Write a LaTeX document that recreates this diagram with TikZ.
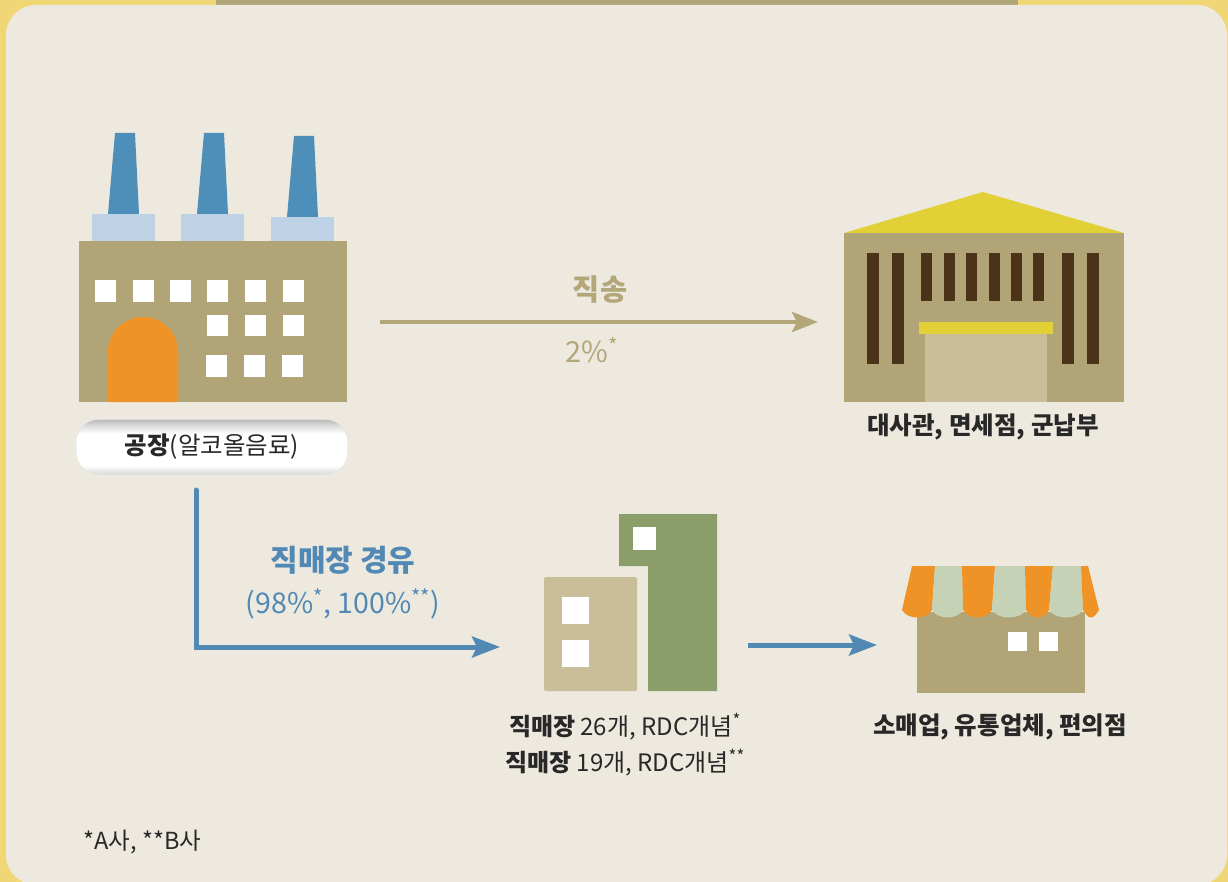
\documentclass[tikz,border=0pt]{standalone}
\usepackage{fontspec}
\setmainfont{Noto Sans CJK KR}
\usetikzlibrary{arrows.meta,positioning}

\definecolor{frameyellow}{HTML}{F0D675}
\definecolor{topbar}{HTML}{B0A577}
\definecolor{panel}{HTML}{EDE9DF}
\definecolor{khaki}{HTML}{B1A578}
\definecolor{stackblue}{HTML}{4E8FBA}
\definecolor{stackbase}{HTML}{BDD2E5}
\definecolor{doororange}{HTML}{EF9326}
\definecolor{roofyellow}{HTML}{E2D136}
\definecolor{column}{HTML}{4A3318}
\definecolor{lightsand}{HTML}{CABE9A}
\definecolor{olivegreen}{HTML}{8B9E6A}
\definecolor{awngreen}{HTML}{C5D2B5}
\definecolor{flowblue}{HTML}{5189B4}
\definecolor{flowtan}{HTML}{B3A77A}
\definecolor{ink}{HTML}{282828}

\pgfdeclareverticalshading{pillshade}{100bp}{color(0bp)=(gray!30); color(25bp)=(gray!30);
  color(33bp)=(white); color(62bp)=(white); color(70bp)=(gray!30); color(75bp)=(gray!55);
  color(100bp)=(gray!55)}

\tikzset{
  bodybox/.style={fill=khaki, draw=none, inner sep=0pt},
  window/.style={fill=white},
  pill/.style={shading=pillshade, draw=gray!20, rounded corners=22pt,
    minimum width=271pt, minimum height=55pt, text=ink,
    font=\fontsize{24.5pt}{28pt}\selectfont},
  caption/.style={text=ink, font=\fontsize{24.5pt}{28pt}\selectfont\bfseries},
  tanarrow/.style={draw=flowtan, line width=4.5pt,
    -{Stealth[length=26pt, width=20pt, inset=5pt]}},
  bluearrow/.style={draw=flowblue, line width=5pt,
    -{Stealth[length=28pt, width=21pt, inset=5pt]}},
}

\begin{document}
\begin{tikzpicture}[x=1pt, y=-1pt]
\useasboundingbox (0,0) rectangle (1228,882);

% 배경
\fill[frameyellow] (0,0) rectangle (1228,882);
\fill[topbar] (216,0) rectangle (1018,6);
\fill[panel, rounded corners=30pt] (6,5) rectangle (1227,885);

% 공장
\foreach \dx/\dy in {0/0, 89/0, 179/3} {
  \fill[stackblue] (115+\dx,133+\dy) -- (135+\dx,133+\dy) -- (139+\dx,214+\dy) -- (108+\dx,214+\dy) -- cycle;
  \fill[stackbase] (92+\dx,214+\dy) rectangle (155+\dx,241);
}
\node[bodybox, minimum width=268pt, minimum height=161pt] (factory) at (213,321.5) {};
\foreach \x in {95,133,170,207,245,283}
  \fill[window] (\x,280) rectangle ++(21,22);
\foreach \x in {207,245,283} {
  \fill[window] (\x,315) rectangle ++(21,21);
  \fill[window] (\x-1,355) rectangle ++(21,22);
}
\fill[doororange] (108,402) -- (108,352) arc[start angle=180, end angle=360, radius=35] -- (178,402) -- cycle;
\node[pill] (factory label) at (212,447) {\textbf{공장}(알코올음료)};

% 대사관
\fill[roofyellow] (844,233) -- (983,192) -- (1124,233) -- cycle;
\node[bodybox, minimum width=280pt, minimum height=169pt] (embassy) at (984,317.5) {};
\foreach \x in {867,892,1062,1087}
  \fill[column] (\x,253) rectangle ++(12,111);
\foreach \x in {921,944,966,989,1011,1033}
  \fill[column] (\x,253) rectangle ++(11,48);
\fill[roofyellow] (919,322) rectangle (1053,334);
\fill[lightsand] (925,334) rectangle (1047,402);
\node[caption] (embassy label) at (983,427) {대사관, 면세점, 군납부};

% 직매장
\fill[lightsand, rounded corners=2pt] (544,577) rectangle (637,691);
\fill[olivegreen] (619,514) -- (717,514) -- (717,691) -- (648,691) -- (648,566) -- (619,566) -- cycle;
\fill[window] (633,527) rectangle (656,550);
\fill[window] (562,597) rectangle (589,624);
\fill[window] (562,640) rectangle (589,667);
\coordinate (outlet) at (630,602);
\node[text=ink, align=center, font=\fontsize{24pt}{36pt}\selectfont] (outlet label) at (625,745)
  {\textbf{직매장} 26개, RDC개념\textsuperscript{*}\\ \textbf{직매장} 19개, RDC개념\textsuperscript{**}};

% 소매점
\node[bodybox, minimum width=168pt, minimum height=81pt] (shop) at (1001,652.5) {};
\foreach \tl/\tr/\bl/\br/\c in {912/935/902/932/doororange, 935/962/932/963/awngreen,
    962/995/963/992/doororange, 995/1025/992/1026/awngreen, 1025/1053/1026/1049/doororange,
    1053/1081/1049/1083/awngreen, 1081/1088/1083/1099/doororange}
  \fill[\c] (\tl,566) -- (\tr,566) -- (\br,610) .. controls (\br-6,620) and (\bl+6,620) .. (\bl,610) -- cycle;
\fill[window] (1008,632) rectangle (1027,651);
\fill[window] (1039,632) rectangle (1058,651);
\node[caption] (shop label) at (1000,727) {소매업, 유통업체, 편의점};

% 흐름 화살표
\coordinate (direct from) at (380,322);
\coordinate (direct to) at (818,322);
\draw[tanarrow] (direct from) -- (direct to);
\node[text=flowtan, font=\fontsize{29.5pt}{33pt}\selectfont\bfseries] (direct title) at (600,289) {직송};
\node[text=flowtan, font=\fontsize{29pt}{33pt}\selectfont] (direct share) at (592,350) {2\%\textsuperscript{*}};

\coordinate (via from) at (196,490);
\coordinate (via to) at (500,647);
\draw[bluearrow, line cap=round] (via from) |- (via to);
\node[text=flowblue, font=\fontsize{30pt}{34pt}\selectfont\bfseries] (via title) at (343,560) {직매장 경유};
\node[text=flowblue, font=\fontsize{28.5pt}{32pt}\selectfont] (via share) at (343,604)
  {(98\%\textsuperscript{*}, 100\%\textsuperscript{**})};

\coordinate (retail from) at (748,645);
\coordinate (retail to) at (877,645);
\draw[bluearrow] (retail from) -- (retail to);

% 주석
\node[text=ink, anchor=west, font=\fontsize{23.5pt}{27pt}\selectfont] (note) at (80,842) {*A사, **B사};
\end{tikzpicture}
\end{document}
